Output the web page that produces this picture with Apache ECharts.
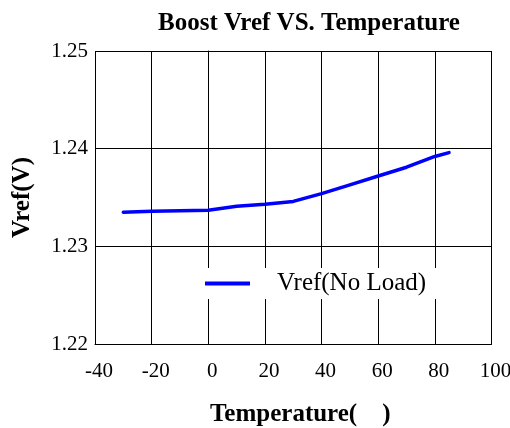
<!DOCTYPE html>
<html><head><meta charset="utf-8">
<script src="https://cdn.jsdelivr.net/npm/echarts@6/dist/echarts.min.js"></script>
<style>html,body{margin:0;padding:0;background:#fff}#c{width:510px;height:428px}</style>
</head><body><div id="c"></div>
<script>
const temps = [-30, -20, 0, 10, 20, 30, 40, 50, 60, 70, 80, 85];
const vrefNoLoad = [1.2335, 1.2336, 1.2337, 1.2341, 1.2343, 1.2346, 1.2354, 1.2363, 1.2372, 1.2381, 1.2392, 1.2396];
const seriesName = 'Vref(No Load)';
const titleText = 'Boost Vref VS. Temperature';
const xName = 'Temperature(    )';
const yName = 'Vref(V)';

const font = '"Liberation Serif", "Times New Roman", serif';
const chart = echarts.init(document.getElementById('c'));
chart.setOption({
  animation: false,
  backgroundColor: '#fff',
  title: { text: titleText, left: 304, textAlign: 'center', top: 6,
    textStyle: { fontFamily: font, fontWeight: 'bold', fontSize: 25, color: '#000' } },
  grid: { left: 95, right: 18.5, top: 51, bottom: 84, containLabel: false, outerBoundsMode: 'none' },
  legend: {
    data: [seriesName], left: 195, top: 268, itemWidth: 45, itemHeight: 4,
    backgroundColor: '#fff', padding: [3, 10, 3, 10],
    textStyle: { fontFamily: font, fontSize: 25, color: '#000', padding: [0, 0, 0, 22] },
    icon: 'rect'
  },
  xAxis: {
    type: 'value', min: -40, max: 100, interval: 20,
    name: xName, nameLocation: 'middle', nameGap: 58,
    nameTextStyle: { fontFamily: font, fontWeight: 'bold', fontSize: 25, color: '#000', padding: [0, 0, 0, 14] },
    axisLine: { show: true, lineStyle: { color: '#000', width: 1 } },
    axisTick: { show: false },
    axisLabel: { fontFamily: font, fontSize: 21, color: '#000', margin: 17, padding: [0, 0, 0, 8] },
    splitLine: { show: true, lineStyle: { color: '#000', width: 1 } }
  },
  yAxis: {
    type: 'value', min: 1.22, max: 1.25, interval: 0.01,
    name: yName, nameLocation: 'middle', nameGap: 60,
    nameTextStyle: { fontFamily: font, fontWeight: 'bold', fontSize: 25, color: '#000' },
    axisLine: { show: true, lineStyle: { color: '#000', width: 1 } },
    axisTick: { show: false },
    axisLabel: { fontFamily: font, fontSize: 21, color: '#000', margin: 7,
      formatter: v => v.toFixed(2) },
    splitLine: { show: true, lineStyle: { color: '#000', width: 1 } }
  },
  series: [{
    name: seriesName, type: 'line', data: temps.map((t, i) => [t, vrefNoLoad[i]]),
    showSymbol: false, symbol: 'none', smooth: false,
    lineStyle: { color: '#0000ff', width: 3.5, cap: 'round', join: 'round' },
    itemStyle: { color: '#0000ff' }
  }]
});
</script></body></html>
